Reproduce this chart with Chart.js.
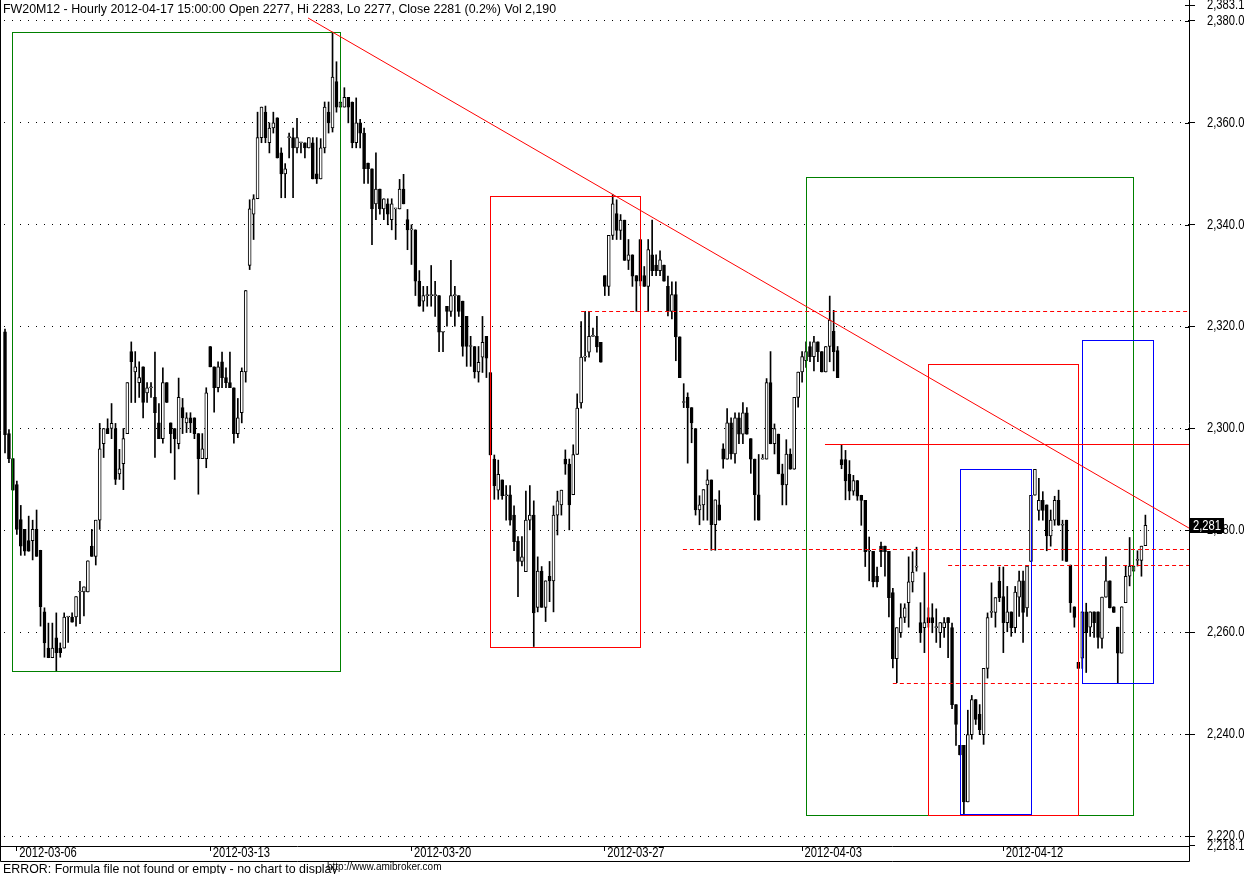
<!DOCTYPE html>
<html><head><meta charset="utf-8">
<script src="https://cdn.jsdelivr.net/npm/chart.js@4.4.1/dist/chart.umd.min.js"></script>
<style>html,body{margin:0;padding:0;background:#fff;overflow:hidden}#wrap{width:1250px;height:874px;position:relative}</style>
</head><body><div id="wrap"><canvas id="c" width="1250" height="874"></canvas></div>
<script>
// ---- data (hourly candles, FW20M12) ----
const opens = [2319.0,2299.0,2294.1,2289.0,2282.1,2280.2,2278.0,2278.0,2280.2,2276.1,2264.0,2256.9,2255.0,2258.9,2256.9,2256.9,2263.0,2263.0,2263.0,2267.9,2267.9,2267.9,2276.9,2274.9,2282.0,2297.0,2300.0,2300.0,2300.0,2291.1,2293.1,2299.0,2315.1,2311.1,2309.0,2312.1,2307.0,2308.0,2306.1,2301.1,2298.0,2309.0,2301.1,2300.0,2297.0,2304.1,2301.1,2302.1,2302.1,2299.0,2294.1,2294.1,2316.1,2312.1,2308.0,2313.1,2310.0,2309.0,2308.0,2299.0,2303.1,2311.1,2332.0,2342.1,2345.1,2357.1,2362.1,2356.1,2359.0,2361.0,2354.1,2350.0,2357.1,2357.1,2355.1,2356.1,2356.1,2355.1,2356.1,2350.0,2349.0,2355.1,2362.1,2359.0,2368.1,2363.1,2363.1,2365.0,2364.1,2356.1,2360.0,2358.0,2352.1,2351.0,2344.1,2347.0,2343.1,2344.1,2341.0,2343.1,2343.1,2347.0,2341.0,2339.0,2339.0,2328.9,2325.0,2326.1,2326.1,2326.1,2326.1,2318.9,2324.0,2323.0,2326.1,2326.1,2325.0,2322.0,2316.1,2316.1,2311.1,2314.0,2318.1,2311.0,2294.0,2287.9,2289.9,2286.8,2287.0,2283.0,2277.9,2273.9,2271.9,2282.0,2283.0,2264.9,2272.0,2264.9,2271.0,2270.1,2283.0,2285.0,2294.0,2293.0,2287.0,2294.9,2305.0,2314.0,2315.0,2318.1,2318.1,2316.9,2330.0,2327.9,2337.9,2342.2,2338.9,2340.9,2333.0,2334.1,2330.0,2337.1,2330.0,2327.9,2334.1,2332.1,2331.0,2332.1,2327.9,2323.0,2326.3,2318.0,2305.1,2306.1,2304.1,2300.0,2284.0,2285.0,2288.9,2289.9,2281.1,2285.0,2296.0,2294.0,2301.1,2295.0,2302.1,2298.9,2303.1,2298.0,2294.0,2287.0,2294.0,2294.0,2309.0,2297.0,2298.9,2291.1,2288.9,2295.0,2292.0,2306.1,2311.1,2313.3,2316.1,2314.1,2317.0,2315.1,2311.1,2316.1,2319.1,2315.3,2293.9,2293.9,2291.0,2287.7,2289.8,2286.9,2285.9,2275.9,2275.9,2271.0,2276.9,2276.9,2275.9,2267.8,2254.8,2259.9,2262.9,2265.8,2269.9,2272.8,2261.9,2260.9,2262.9,2262.9,2260.9,2259.9,2260.9,2262.9,2260.9,2245.8,2237.8,2237.8,2226.7,2239.9,2246.8,2243.9,2239.9,2252.9,2263.9,2263.9,2270.0,2267.0,2261.9,2264.0,2260.9,2266.9,2270.1,2264.8,2273.9,2286.9,2283.9,2285.9,2285.0,2278.9,2282.0,2285.9,2281.0,2282.0,2273.2,2265.0,2254.1,2254.9,2264.0,2261.0,2264.0,2264.0,2258.8,2266.9,2270.1,2265.0,2261.0,2255.9,2265.8,2271.0,2272.0,2274.1,2274.1,2277.0];
const highs = [2319.5,2299.8,2294.1,2289.7,2284.9,2280.2,2282.8,2282.0,2284.0,2276.1,2264.8,2261.8,2261.8,2263.8,2257.9,2263.8,2263.0,2263.8,2267.0,2270.0,2268.9,2274.0,2280.2,2282.0,2301.0,2300.0,2301.9,2304.9,2301.0,2295.9,2300.0,2309.0,2317.0,2315.1,2313.1,2312.1,2309.0,2309.0,2315.0,2304.9,2311.9,2309.0,2301.1,2300.0,2309.9,2305.9,2303.1,2303.1,2302.1,2299.0,2299.0,2308.0,2316.1,2312.1,2313.1,2315.0,2311.9,2315.0,2308.0,2305.9,2311.9,2327.1,2344.9,2345.9,2362.1,2363.1,2363.3,2360.0,2362.1,2361.0,2355.1,2352.0,2358.0,2359.0,2360.9,2356.1,2356.1,2357.1,2357.1,2357.1,2356.9,2364.1,2364.1,2377.8,2372.0,2364.1,2366.9,2365.0,2364.1,2364.9,2360.7,2359.0,2352.1,2351.0,2354.1,2347.0,2345.1,2345.1,2345.1,2343.1,2348.9,2349.9,2343.0,2340.0,2339.0,2331.0,2327.9,2327.9,2332.0,2328.9,2326.1,2318.9,2324.0,2333.0,2327.9,2326.1,2325.0,2322.0,2318.1,2316.1,2316.1,2322.0,2318.1,2311.0,2294.8,2293.8,2289.9,2288.8,2288.8,2284.8,2278.8,2278.8,2287.7,2288.8,2285.8,2274.8,2272.9,2270.1,2273.9,2284.8,2287.7,2287.9,2295.8,2294.0,2296.8,2306.8,2321.0,2323.0,2323.0,2319.7,2322.0,2316.9,2330.0,2337.9,2345.9,2344.9,2342.0,2340.9,2337.1,2334.1,2330.0,2337.1,2331.8,2337.1,2340.9,2334.1,2334.9,2332.1,2329.9,2328.8,2328.8,2318.0,2308.8,2307.0,2304.1,2300.0,2286.8,2288.0,2291.9,2289.9,2286.0,2287.8,2297.0,2303.9,2302.1,2303.1,2303.1,2305.1,2304.1,2298.0,2294.0,2294.9,2294.9,2309.8,2315.1,2300.9,2298.9,2293.0,2297.8,2296.0,2306.1,2311.1,2315.1,2317.0,2317.0,2318.1,2317.0,2315.1,2316.1,2326.0,2323.2,2316.1,2296.8,2295.7,2293.7,2290.8,2289.8,2286.9,2285.9,2278.7,2275.9,2272.8,2277.7,2276.9,2275.9,2268.6,2260.9,2265.6,2265.6,2274.8,2275.8,2276.7,2265.8,2271.7,2264.8,2265.6,2264.6,2261.9,2262.9,2262.9,2261.8,2245.8,2237.8,2237.8,2244.7,2247.6,2246.8,2245.8,2252.9,2263.8,2269.7,2266.8,2272.8,2272.8,2269.0,2264.0,2269.0,2272.0,2272.0,2273.0,2286.9,2292.0,2290.2,2287.6,2285.0,2284.0,2286.7,2287.9,2282.0,2282.0,2273.2,2265.0,2254.1,2264.0,2265.7,2264.0,2264.0,2264.0,2266.9,2274.8,2270.1,2265.0,2261.0,2265.0,2273.0,2278.6,2273.0,2276.0,2276.9,2283.0];
const lows = [2295.2,2293.3,2287.9,2279.2,2275.1,2275.1,2275.9,2274.2,2274.9,2261.2,2255.1,2255.0,2255.0,2252.4,2255.1,2256.9,2258.0,2262.0,2261.2,2261.7,2263.2,2267.9,2274.9,2273.2,2280.2,2294.3,2299.0,2298.0,2289.0,2290.0,2288.0,2299.0,2305.1,2305.1,2306.1,2302.1,2305.1,2306.1,2294.3,2298.0,2297.1,2305.1,2295.2,2290.0,2296.0,2299.0,2299.2,2299.2,2298.0,2287.1,2294.1,2292.3,2312.1,2303.2,2307.2,2308.0,2308.0,2308.0,2297.1,2298.2,2301.1,2309.1,2331.2,2337.1,2345.1,2356.1,2356.1,2354.1,2358.0,2353.1,2345.3,2345.3,2353.1,2345.3,2354.1,2354.1,2353.1,2355.1,2349.0,2348.1,2349.0,2354.1,2358.0,2358.2,2362.1,2363.1,2363.1,2360.0,2355.1,2355.1,2355.1,2348.1,2348.1,2336.1,2341.0,2342.1,2341.0,2340.0,2339.0,2337.1,2343.1,2344.1,2335.1,2332.2,2326.1,2324.0,2323.0,2324.0,2324.0,2322.0,2315.1,2315.1,2320.1,2322.0,2320.1,2322.0,2314.2,2312.2,2312.2,2309.9,2309.1,2311.0,2310.0,2294.8,2286.1,2286.1,2286.1,2282.0,2281.0,2276.0,2267.0,2273.0,2271.9,2280.1,2257.2,2264.0,2264.9,2262.1,2266.0,2264.0,2279.1,2283.0,2291.0,2280.1,2287.0,2294.9,2304.0,2313.2,2314.0,2318.1,2315.0,2313.0,2326.1,2326.1,2337.1,2337.1,2337.1,2333.0,2331.2,2327.9,2323.0,2328.0,2327.9,2323.0,2330.0,2330.0,2330.0,2328.9,2322.1,2321.5,2313.3,2310.0,2304.1,2293.2,2297.2,2283.0,2281.1,2282.0,2282.0,2276.1,2276.1,2282.0,2292.2,2294.0,2294.0,2293.2,2297.0,2297.0,2298.9,2291.2,2282.0,2282.0,2294.0,2294.0,2297.0,2295.0,2291.1,2285.0,2285.0,2292.0,2292.0,2304.2,2309.1,2312.0,2313.1,2311.3,2313.1,2311.1,2311.1,2313.1,2311.3,2310.0,2292.1,2286.0,2286.0,2286.9,2285.9,2281.0,2272.9,2270.1,2268.9,2268.9,2272.9,2271.0,2263.0,2253.0,2250.1,2259.0,2261.9,2261.0,2267.9,2272.0,2258.0,2256.0,2261.0,2259.9,2258.0,2257.0,2259.0,2255.0,2245.0,2237.8,2235.9,2224.3,2226.7,2239.0,2241.9,2239.9,2238.0,2251.0,2262.9,2261.0,2266.0,2256.0,2260.1,2259.2,2259.9,2263.1,2258.0,2263.1,2273.9,2286.9,2282.0,2282.0,2276.0,2276.9,2281.0,2281.0,2274.1,2273.9,2263.9,2261.0,2252.9,2252.9,2252.1,2259.2,2259.0,2256.9,2256.9,2266.9,2264.8,2263.9,2250.1,2255.9,2265.8,2269.1,2272.0,2273.0,2271.0,2277.0];
const closes = [2298.8,2294.1,2287.9,2280.2,2276.9,2275.9,2275.9,2280.2,2274.9,2265.0,2257.9,2255.0,2256.9,2256.0,2256.0,2263.0,2263.0,2262.0,2267.0,2267.9,2268.9,2274.0,2274.9,2282.0,2296.0,2300.0,2299.0,2301.0,2290.0,2292.1,2298.0,2309.0,2313.1,2312.1,2310.0,2305.1,2308.0,2308.0,2303.1,2298.0,2309.0,2305.1,2299.0,2298.0,2306.1,2302.1,2302.1,2301.1,2299.0,2294.1,2296.0,2307.0,2312.1,2308.0,2312.1,2310.0,2309.0,2308.0,2299.0,2302.1,2311.2,2327.1,2343.1,2345.1,2357.1,2363.1,2357.1,2359.0,2360.0,2353.1,2350.0,2351.0,2357.1,2355.1,2357.1,2356.1,2355.1,2357.1,2349.0,2349.0,2355.1,2363.1,2360.0,2369.0,2363.1,2364.1,2365.0,2363.1,2356.1,2360.0,2358.0,2351.0,2351.0,2343.1,2347.0,2343.1,2345.1,2342.1,2344.1,2343.1,2347.0,2344.1,2339.0,2339.0,2328.9,2324.0,2326.1,2326.1,2326.1,2326.1,2318.9,2318.9,2323.0,2326.1,2326.1,2323.0,2316.1,2316.1,2316.1,2311.1,2313.0,2316.9,2313.8,2294.8,2288.8,2291.0,2286.8,2286.8,2282.0,2277.8,2273.9,2274.8,2282.0,2283.0,2263.8,2272.0,2264.9,2270.1,2270.1,2283.0,2285.8,2287.9,2293.0,2285.0,2294.9,2304.0,2314.0,2314.0,2318.1,2318.1,2316.0,2313.0,2327.9,2337.9,2344.1,2338.9,2340.9,2333.0,2334.1,2329.9,2328.9,2328.9,2327.9,2335.1,2331.0,2331.0,2333.1,2328.9,2323.0,2326.3,2318.0,2310.0,2305.1,2304.1,2301.1,2284.0,2285.0,2288.0,2289.9,2281.1,2286.0,2282.0,2294.0,2301.1,2295.0,2302.1,2298.9,2303.1,2298.9,2294.0,2287.0,2282.0,2294.0,2309.0,2297.0,2300.0,2291.1,2288.9,2295.0,2292.0,2306.1,2311.1,2314.1,2315.1,2314.1,2317.0,2315.1,2311.1,2316.1,2321.3,2315.1,2310.0,2292.9,2289.7,2287.7,2289.8,2286.7,2285.9,2275.8,2275.9,2269.9,2269.9,2275.8,2275.8,2266.8,2254.8,2260.9,2262.9,2264.8,2269.9,2271.8,2272.8,2259.9,2261.9,2261.9,2261.9,2260.9,2261.9,2261.9,2261.9,2245.8,2241.9,2235.9,2226.7,2239.9,2246.8,2242.9,2240.9,2252.9,2262.9,2263.9,2266.8,2266.8,2261.9,2264.0,2260.9,2267.9,2270.1,2263.9,2273.0,2286.9,2292.0,2285.9,2283.9,2278.9,2282.0,2285.9,2281.0,2281.0,2273.9,2265.8,2262.9,2252.9,2264.0,2259.9,2264.0,2261.9,2259.0,2266.9,2270.1,2264.8,2263.9,2255.9,2265.0,2271.0,2273.0,2273.0,2274.1,2276.9,2281.0];
// x-axis date ticks (bar index of the first bar of the labelled day)
const tickIndex = [3, 52, 103, 152, 202, 253];
const tickLabels = ['2012-03-06','2012-03-13','2012-03-20','2012-03-27','2012-04-03','2012-04-12'];
// y-axis ticks
const yTicks = [2218.1,2220,2240,2260,2280,2300,2320,2340,2360,2380,2383.1];
const lastClose = 2281;
const titleText = 'FW20M12 - Hourly 2012-04-17 15:00:00 Open 2277, Hi 2283, Lo 2277, Close 2281 (0.2%) Vol 2,190';
const errorText = 'ERROR: Formula file not found or empty - no chart to display';
const linkText = 'http://www.amibroker.com';
// drawn studies, in (bar index, price) units
const boxes = [
  {x0:1.77,  x1:84.9,  lo:2252.4,  hi:2377.84, color:'#008000'},
  {x0:122.9, x1:160.9, lo:2257.1,  hi:2345.65, color:'#ff0000'},
  {x0:203.0, x1:285.9, lo:2224.13, hi:2349.38, color:'#008000'},
  {x0:233.9, x1:271.9, lo:2224.13, hi:2312.67, color:'#ff0000'},
  {x0:242.0, x1:260.0, lo:2224.33, hi:2292.05, color:'#0000ff'},
  {x0:272.9, x1:290.9, lo:2250.04, hi:2317.38, color:'#0000ff'}
];
const trendLines = [
  {x0:76.8,  y0:2380.59, x1:300.05, y1:2280.45, dash:false},
  {x0:207.8, y0:2296.96, x1:300.05, y1:2296.96, dash:false},
  {x0:146.0, y0:2323.07, x1:300.05, y1:2323.07, dash:true},
  {x0:171.8, y0:2276.35, x1:300.05, y1:2276.35, dash:true},
  {x0:239.0, y0:2273.21, x1:300.05, y1:2273.21, dash:true},
  {x0:225.0, y0:2250.04, x1:272.9,  y1:2250.04, dash:true}
];

const NORMAL = '"Liberation Sans", Arial, sans-serif';
const NARROW_SCALE = 0.8;

const wickData = highs.map((h, i) => ({x: i, y: [lows[i], h]}));
const bodyData = opens.map((o, i) => ({x: i, y: [o, closes[i]]}));
const bodyFill = opens.map((o, i) => closes[i] >= o ? '#ffffff' : '#000000');

const fmtY = v => Number(v).toLocaleString('en-US', {minimumFractionDigits: 1, maximumFractionDigits: 1});

function narrowText(ctx, txt, px, py) {
  ctx.save();
  ctx.translate(px, py);
  ctx.scale(NARROW_SCALE, 1);
  ctx.fillText(txt, 0, 0);
  ctx.restore();
}

const deco = {
  id: 'deco',
  afterDatasetsDraw(chart) {
    const {ctx, chartArea: a, scales: {x, y}} = chart;
    ctx.save();
    ctx.beginPath(); ctx.rect(a.left, a.top, a.right - a.left, a.bottom - a.top); ctx.clip();
    ctx.lineWidth = 1;
    boxes.forEach(b => {
      const X0 = Math.round(x.getPixelForValue(b.x0)) + 0.5, X1 = Math.round(x.getPixelForValue(b.x1)) + 0.5;
      const Y0 = Math.round(y.getPixelForValue(b.hi)) + 0.5, Y1 = Math.round(y.getPixelForValue(b.lo)) + 0.5;
      ctx.strokeStyle = b.color; ctx.setLineDash([]);
      ctx.strokeRect(X0, Y0, X1 - X0, Y1 - Y0);
    });
    trendLines.forEach(l => {
      ctx.strokeStyle = '#ff0000';
      ctx.setLineDash(l.dash ? [4, 3] : []);
      const py0 = y.getPixelForValue(l.y0), py1 = y.getPixelForValue(l.y1);
      const flat = l.y0 === l.y1;
      ctx.beginPath();
      ctx.moveTo(x.getPixelForValue(l.x0), flat ? Math.round(py0) + 0.5 : py0);
      ctx.lineTo(x.getPixelForValue(l.x1), flat ? Math.round(py1) + 0.5 : py1);
      ctx.stroke();
    });
    ctx.restore();
  },
  afterDraw(chart) {
    const {ctx, chartArea: a, scales: {x, y}} = chart;
    ctx.save();
    // frame lines
    ctx.strokeStyle = '#000'; ctx.lineWidth = 1; ctx.setLineDash([]);
    ctx.beginPath();
    ctx.moveTo(0.5, 0); ctx.lineTo(0.5, a.bottom + 15.5);
    ctx.lineTo(a.right + 0.5, a.bottom + 15.5); ctx.lineTo(a.right + 0.5, a.bottom);
    ctx.stroke();
    // left half of the y tick marks
    yTicks.forEach(v => {
      const py = Math.round(y.getPixelForValue(v)) + 0.5;
      ctx.beginPath(); ctx.moveTo(a.right - 4, py); ctx.lineTo(a.right, py); ctx.stroke();
    });
    // y tick labels (narrow face)
    ctx.fillStyle = '#000';
    ctx.font = '14px ' + NORMAL;
    ctx.textAlign = 'left'; ctx.textBaseline = 'middle';
    y.ticks.forEach(t => narrowText(ctx, fmtY(t.value), a.right + 18, y.getPixelForValue(t.value)));
    // x tick labels (narrow face)
    ctx.textBaseline = 'alphabetic';
    x.ticks.forEach(t => {
      const k = tickIndex.indexOf(t.value);
      if (k >= 0) narrowText(ctx, tickLabels[k], x.getPixelForValue(t.value) + 2.5, a.bottom + 11);
    });
    // title
    ctx.font = '12.4px ' + NORMAL;
    ctx.fillText(titleText, 3, 13);
    // footer
    ctx.font = '10px ' + NORMAL;
    ctx.fillText(linkText, 327, 870);
    ctx.font = '12.4px ' + NORMAL;
    ctx.fillText(errorText, 3, 872.5);
    // current price marker
    const py = Math.round(y.getPixelForValue(lastClose));
    ctx.font = '14px ' + NORMAL;
    const txt = lastClose.toLocaleString('en-US');
    const w = ctx.measureText(txt).width * NARROW_SCALE + 6;
    ctx.fillStyle = '#000';
    ctx.fillRect(a.right + 1, py - 7, w, 15);
    ctx.fillStyle = '#fff'; ctx.textBaseline = 'middle';
    narrowText(ctx, txt, a.right + 4, py + 1);
    ctx.restore();
  }
};

new Chart(document.getElementById('c'), {
  type: 'bar',
  data: {
    datasets: [
      {data: bodyData, backgroundColor: bodyFill, borderColor: '#000', borderWidth: 1, borderSkipped: false,
       barThickness: 3, minBarLength: 1, grouped: false},
      {data: wickData, backgroundColor: '#000', borderWidth: 0, barThickness: 1, grouped: false}
    ]
  },
  options: {
    responsive: false, animation: false, events: [],
    layout: {padding: 0},
    plugins: {legend: {display: false}, tooltip: {enabled: false}, title: {display: false}},
    scales: {
      x: {
        type: 'linear', min: -1.27, max: 300.05, offset: false,
        grid: {drawOnChartArea: false, offset: false, tickLength: 5, color: '#000'},
        border: {color: '#000'},
        afterBuildTicks: s => { s.ticks = tickIndex.map(v => ({value: v})); },
        afterFit: s => { s.height = 28; s.paddingLeft = 0; s.paddingRight = 0; },
        ticks: {display: false, autoSkip: false, maxRotation: 0}
      },
      y: {
        type: 'linear', position: 'right', min: 2218.04, max: 2384.12,
        grid: {
          color: c => (c.tick && Math.abs(c.tick.value % 20) < 1e-6) ? '#000' : 'rgba(0,0,0,0)',
          tickColor: '#000', tickLength: 6, lineWidth: 1
        },
        border: {color: '#000', dash: [1, 7], dashOffset: 4},
        afterBuildTicks: s => { s.ticks = yTicks.map(v => ({value: v})); },
        afterFit: s => { s.width = 61; s.paddingTop = 0; s.paddingBottom = 0; },
        ticks: {display: false, autoSkip: false}
      }
    }
  },
  plugins: [deco]
});
</script>
</body></html>
